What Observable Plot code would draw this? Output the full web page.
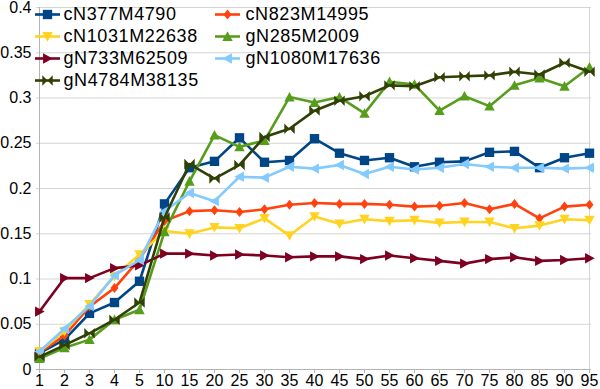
<!DOCTYPE html>
<html><head><meta charset="utf-8">
<script src="https://cdn.jsdelivr.net/npm/d3@7"></script>
<script src="https://cdn.jsdelivr.net/npm/@observablehq/plot@0.6"></script>
<style>html,body{margin:0;padding:0;background:#fff} svg{display:block}</style>
</head><body><div id="chart"></div>
<script>
const categories = ["1","2","3","4","5","10","15","20","25","30","35","40","45","50","55","60","65","70","75","80","85","90","95"];
const seriesNames = ["cN377M4790","cN823M14995","cN1031M22638","gN285M2009","gN733M62509","gN1080M17636","gN4784M38135"];
const cN377M4790 = [0.018,0.033,0.062,0.074,0.0975,0.183,0.223,0.230,0.256,0.229,0.231,0.255,0.239,0.231,0.234,0.224,0.229,0.230,0.240,0.241,0.223,0.234,0.239];
const cN823M14995 = [0.019,0.0375,0.0695,0.090,0.122,0.164,0.175,0.176,0.174,0.177,0.182,0.184,0.183,0.183,0.182,0.180,0.181,0.184,0.177,0.183,0.167,0.180,0.182];
const cN1031M22638 = [0.020,0.042,0.072,0.103,0.127,0.153,0.150,0.157,0.156,0.167,0.148,0.169,0.161,0.166,0.164,0.165,0.162,0.163,0.163,0.156,0.159,0.166,0.165];
const gN285M2009 = [0.012,0.024,0.033,0.055,0.066,0.152,0.208,0.259,0.246,0.253,0.301,0.295,0.301,0.283,0.318,0.315,0.286,0.302,0.291,0.314,0.322,0.313,0.334];
const gN733M62509 = [0.064,0.101,0.101,0.112,0.115,0.128,0.128,0.126,0.127,0.126,0.124,0.125,0.125,0.122,0.126,0.123,0.120,0.117,0.122,0.124,0.120,0.121,0.123];
const gN1080M17636 = [0.020,0.045,0.070,0.104,0.121,0.175,0.195,0.186,0.213,0.212,0.224,0.222,0.226,0.216,0.224,0.221,0.223,0.227,0.224,0.223,0.223,0.222,0.223];
const gN4784M38135 = [0.014,0.027,0.040,0.055,0.074,0.168,0.227,0.211,0.226,0.257,0.266,0.286,0.297,0.302,0.314,0.313,0.323,0.324,0.325,0.329,0.326,0.339,0.329];
const yTicks = [0, 0.05, 0.1, 0.15, 0.2, 0.25, 0.3, 0.35, 0.4];

const seriesValues = [cN377M4790, cN823M14995, cN1031M22638, gN285M2009, gN733M62509, gN1080M17636, gN4784M38135];

// styles
const colors = ["#004586","#ff420e","#ffd320","#579d1c","#7e0021","#83caff","#314004"];
const R = s => Math.sqrt(s / Math.PI);
const symSquare = {draw(c, s){const r=R(s)*0.9; c.rect(-r,-r,2*r,2*r);}};
const symDiamond = {draw(c, s){const r=R(s); c.moveTo(0,-r); c.lineTo(r*0.8,0); c.lineTo(0,r); c.lineTo(-r*0.8,0); c.closePath();}};
const symDown = {draw(c, s){const r=R(s); c.moveTo(-r,-r*0.85); c.lineTo(r,-r*0.85); c.lineTo(0,r); c.closePath();}};
const symUp = {draw(c, s){const r=R(s); c.moveTo(-r,r*0.85); c.lineTo(r,r*0.85); c.lineTo(0,-r); c.closePath();}};
const symRight = {draw(c, s){const r=R(s); c.moveTo(-r*0.85,-r); c.lineTo(-r*0.85,r); c.lineTo(r,0); c.closePath();}};
const symLeft = {draw(c, s){const r=R(s); c.moveTo(r*0.85,-r); c.lineTo(r*0.85,r); c.lineTo(-r,0); c.closePath();}};
const symBowtie = {draw(c, s){const r=R(s); c.moveTo(-r,-r); c.lineTo(0,0); c.lineTo(-r,r); c.closePath(); c.moveTo(r,-r); c.lineTo(0,0); c.lineTo(r,r); c.closePath();}};
const symLine = {draw(c, s){c.moveTo(-12.5,0); c.lineTo(12.5,0);}};
const symbols = [symSquare, symDiamond, symDown, symUp, symRight, symLeft, symBowtie];
const markerR = [5.2, 5, 5.2, 5.2, 5.2, 5.2, 5.2];

const marks = [];
marks.push(Plot.ruleY(yTicks, {stroke: "#d4d4d4", strokeWidth: 1}));
marks.push(Plot.ruleX([categories[categories.length-1]], {stroke: "#d4d4d4"}));
marks.push(Plot.ruleX([categories[0]], {stroke: "#b3b3b3"}));
marks.push(Plot.ruleY([0], {stroke: "#b3b3b3"}));
marks.push(Plot.axisX({tickSize: 4, tickPadding: 1, stroke: "#b3b3b3", fill: "#000", fontSize: 16}));
marks.push(Plot.axisY({ticks: yTicks, tickSize: 0, tickPadding: 5, fill: "#000", fontSize: 16, tickFormat: d => String(+d.toFixed(2))}));

seriesNames.forEach((name, i) => {
  const rows = categories.map((c, j) => ({cat: c, value: seriesValues[i][j]}));
  marks.push(Plot.line(rows, {x: "cat", y: "value", stroke: colors[i], strokeWidth: 2.6}));
  marks.push(Plot.dot(rows, {x: "cat", y: "value", symbol: symbols[i], fill: colors[i], stroke: "none", r: markerR[i]}));
});

// legend inside the frame
seriesNames.forEach((name, i) => {
  const col = i % 2, row = Math.floor(i / 2);
  const dx = 11 + col * 180, dy = 7 + row * 22;
  marks.push(Plot.dot([name], {frameAnchor: "top-left", dx, dy, symbol: symLine, stroke: colors[i], fill: "none", strokeWidth: 2.6, r: 5}));
  marks.push(Plot.dot([name], {frameAnchor: "top-left", dx, dy, symbol: symbols[i], fill: colors[i], stroke: "none", r: markerR[i]}));
  marks.push(Plot.text([name], {frameAnchor: "top-left", dx: 27 + col * 182, dy, text: d => d, textAnchor: "start", lineAnchor: "middle", fill: "#000", fontSize: 18}));
});

const chart = Plot.plot({
  width: 600,
  height: 389,
  marginLeft: 36,
  marginRight: 9,
  marginTop: 7,
  marginBottom: 20,
  style: {fontFamily: "'Liberation Sans', Arial, sans-serif", fontSize: "16px", background: "#fff", color: "#000"},
  x: {type: "point", domain: categories, padding: 0, label: null},
  y: {domain: [0, 0.4], label: null},
  marks
});
d3.select(chart).selectAll("g[aria-label='text'] text").style("letter-spacing", "0.6px");
document.getElementById("chart").appendChild(chart);
</script>
</body></html>
